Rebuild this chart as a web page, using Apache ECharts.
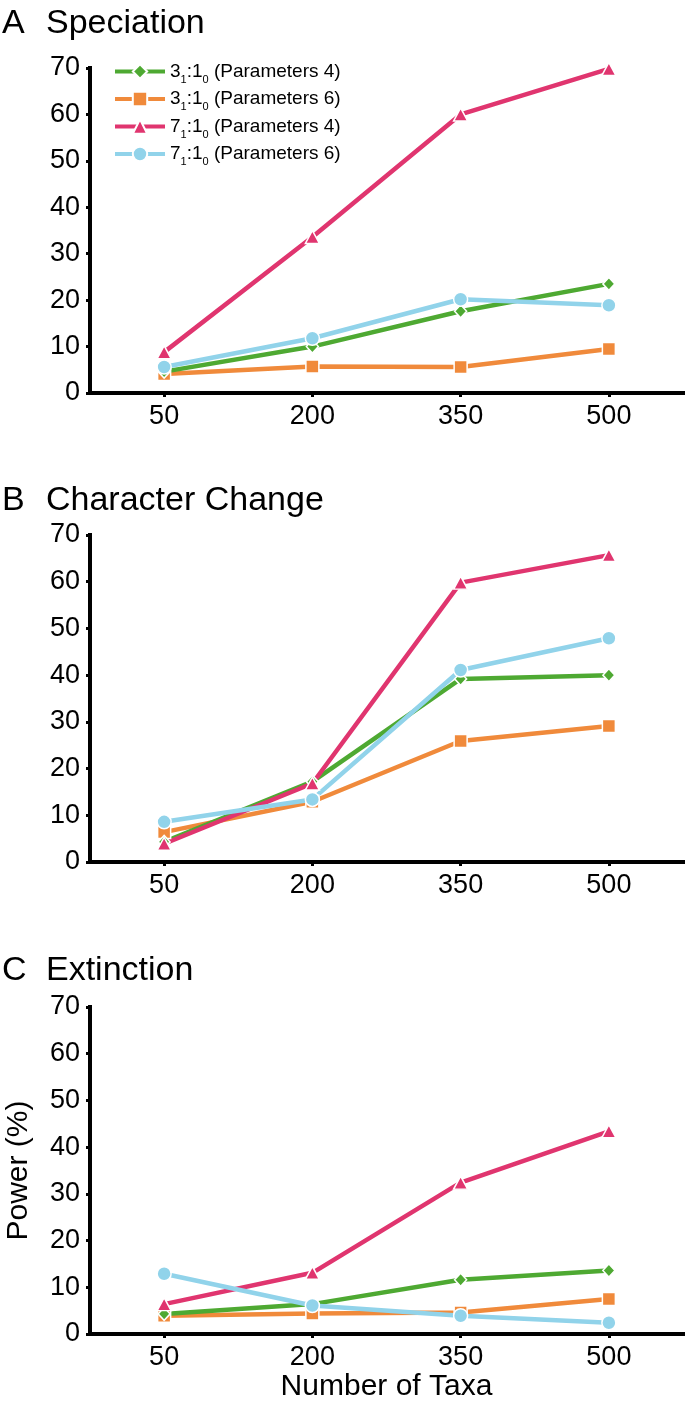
<!DOCTYPE html>
<html>
<head>
<meta charset="utf-8">
<script src="https://cdn.jsdelivr.net/npm/echarts@6/dist/echarts.min.js"></script>
<style>
html,body{margin:0;padding:0;background:#fff;}
#chart{width:685px;height:1407px;}
</style>
</head>
<body>
<div id="chart"></div>
<script>
// ---- data ----
const categories = ['50', '200', '350', '500'];
const yTicks = [0, 10, 20, 30, 40, 50, 60, 70];
const panelLetters = ['A', 'B', 'C'];
const panelTitles = ['Speciation', 'Character Change', 'Extinction'];
const seriesKeys = ['g', 'o', 'p', 'b'];
const seriesNames = {
  g: '3_1:1_0 (Parameters 4)',
  o: '3_1:1_0 (Parameters 6)',
  p: '7_1:1_0 (Parameters 4)',
  b: '7_1:1_0 (Parameters 6)'
};
// Speciation
const specGreen = [4.6, 10.0, 17.6, 23.5];
const specOrange = [4.1, 5.7, 5.6, 9.5];
const specPink = [8.8, 33.6, 60.0, 69.8];
const specBlue = [5.6, 11.8, 20.2, 18.9];
// Character change
const charGreen = [4.3, 17.2, 39.2, 40.0];
const charOrange = [6.4, 12.9, 25.9, 29.1];
const charPink = [3.9, 16.8, 59.8, 65.7];
const charBlue = [8.6, 13.4, 41.1, 47.9];
// Extinction
const extGreen = [4.3, 6.4, 11.6, 13.6];
const extOrange = [3.9, 4.4, 4.6, 7.5];
const extPink = [6.4, 13.1, 32.4, 43.4];
const extBlue = [12.9, 6.1, 3.9, 2.4];

const panelData = [
  {g: specGreen, o: specOrange, p: specPink, b: specBlue},
  {g: charGreen, o: charOrange, p: charPink, b: charBlue},
  {g: extGreen, o: extOrange, p: extPink, b: extBlue}
];

// ---- styles ----
const FONT = '"Liberation Sans", Arial, Helvetica, sans-serif';
const colors = {g: '#4ea932', o: '#f08a3b', p: '#e0356f', b: '#91d3ea'};
const symbols = {g: 'diamond', o: 'rect', p: 'triangle', b: 'circle'};
const symbolSizes = {g: [12, 13], o: 13, p: [14, 13], b: 14};
const drawOrder = ['o', 'g', 'p', 'b'];

const gridTops = [68, 535, 1007];
const gridHeights = [325, 327, 327];
const titleBaselines = [36, 513, 983];

const chart = echarts.init(document.getElementById('chart'), null, {renderer: 'canvas'});

const grids = [], xAxes = [], yAxes = [], series = [], titles = [];
for (let i = 0; i < 3; i++) {
  grids.push({left: 90, top: gridTops[i], width: 593, height: gridHeights[i],
    containLabel: false, outerBoundsMode: 'none'});
  xAxes.push({
    type: 'category', gridIndex: i, data: categories, boundaryGap: true,
    axisLine: {show: true, onZero: false, lineStyle: {color: '#000', width: 4, cap: 'square'}},
    axisTick: {show: true, alignWithLabel: true, length: 4, lineStyle: {color: '#000', width: 3}},
    axisLabel: {fontFamily: FONT, fontSize: 27, color: '#000', margin: 10},
    splitLine: {show: false},
    name: i === 2 ? 'Number of Taxa' : '',
    nameLocation: 'middle', nameGap: 38,
    nameTextStyle: {fontFamily: FONT, fontSize: 30, color: '#000'}
  });
  yAxes.push({
    type: 'value', gridIndex: i, min: yTicks[0], max: yTicks[yTicks.length - 1], interval: yTicks[1] - yTicks[0],
    axisLine: {show: true, lineStyle: {color: '#000', width: 4, cap: 'square'}},
    axisTick: {show: true, length: 4, lineStyle: {color: '#000', width: 3}},
    axisLabel: {fontFamily: FONT, fontSize: 27, color: '#000', margin: 10},
    splitLine: {show: false},
    name: i === 2 ? 'Power (%)' : '',
    nameLocation: 'middle', nameGap: 56,
    nameTextStyle: {fontFamily: FONT, fontSize: 30, color: '#000'}
  });
  const top = titleBaselines[i] - 0.35 * 34 - 17;
  titles.push({text: panelLetters[i], left: 2, top: top, padding: 0,
    textStyle: {fontFamily: FONT, fontSize: 34, fontWeight: 'normal', color: '#000', lineHeight: 34}});
  titles.push({text: panelTitles[i], left: 46, top: top, padding: 0,
    textStyle: {fontFamily: FONT, fontSize: 34, fontWeight: 'normal', color: '#000', lineHeight: 34}});
  drawOrder.forEach(function (k) {
    series.push({
      type: 'line', name: seriesNames[k], xAxisIndex: i, yAxisIndex: i,
      data: panelData[i][k],
      symbol: symbols[k], symbolSize: symbolSizes[k], showSymbol: true,
      lineStyle: {color: colors[k], width: 4.5},
      itemStyle: {color: colors[k], borderColor: '#fff', borderWidth: 1.5},
      emphasis: {disabled: true},
      animation: false, z: 2
    });
  });
}

function legendRich(name) {
  // name like "3_1:1_0 (Parameters 4)"
  const m = name.match(/^(\d)_(\d):(\d)_(\d) (.*)$/);
  return '{m|' + m[1] + '}{s|' + m[2] + '}{m|:' + m[3] + '}{s|' + m[4] + '}{m| ' + m[5] + '}';
}

const option = {
  backgroundColor: '#fff',
  animation: false,
  title: titles,
  grid: grids,
  xAxis: xAxes,
  yAxis: yAxes,
  legend: {
    data: seriesKeys.map(function (k) { return seriesNames[k]; }),
    orient: 'vertical', left: 113, top: 62, padding: 0,
    itemWidth: 50, itemHeight: 18, itemGap: 4.5,
    selectedMode: false,
    formatter: legendRich,
    lineStyle: {width: 4},
    textStyle: {
      fontFamily: FONT, color: '#000', fontSize: 19,
      rich: {
        m: {fontFamily: FONT, fontSize: 19, color: '#000', lineHeight: 27, verticalAlign: 'middle'},
        s: {fontFamily: FONT, fontSize: 11, color: '#000', lineHeight: 11, verticalAlign: 'bottom'}
      }
    }
  },
  series: series
};
chart.setOption(option);
</script>
</body>
</html>
